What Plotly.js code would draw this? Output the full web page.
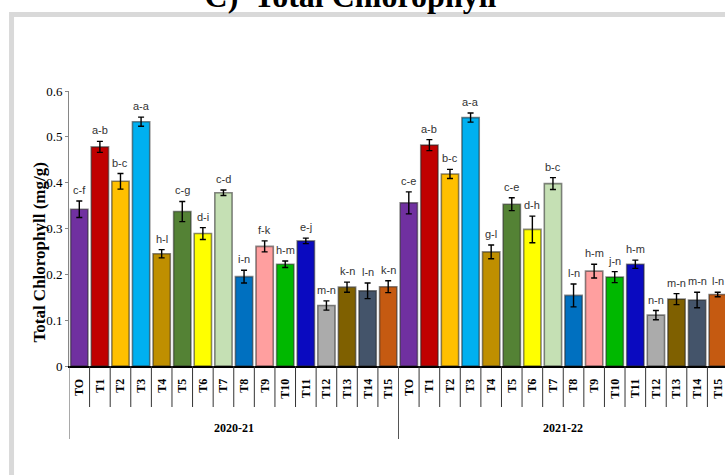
<!DOCTYPE html>
<html>
<head>
<meta charset="utf-8">
<script src="https://cdn.plot.ly/plotly-3.0.1.min.js"></script>
<style>
  html, body { margin: 0; padding: 0; background: #ffffff; overflow: hidden; }
  #chart { width: 740px; height: 475px; }
</style>
</head>
<body>
<div id="chart"></div>
<script>
// Treatments and seasons
const treatments = ['TO', 'T1', 'T2', 'T3', 'T4', 'T5', 'T6', 'T7',
                    'T8', 'T9', 'T10', 'T11', 'T12', 'T13', 'T14', 'T15'];
const seasons = ['2020-21', '2021-22'];

// Total chlorophyll (mg/g), mean and standard error
const chl2020 = [0.342, 0.478, 0.403, 0.533, 0.245, 0.337, 0.289, 0.378,
                 0.195, 0.261, 0.222, 0.273, 0.132, 0.172, 0.164, 0.173];
const err2020 = [0.018, 0.012, 0.017, 0.010, 0.009, 0.022, 0.013, 0.006,
                 0.014, 0.012, 0.007, 0.006, 0.010, 0.011, 0.017, 0.013];
const chl2021 = [0.356, 0.482, 0.419, 0.542, 0.249, 0.353, 0.298, 0.398,
                 0.154, 0.207, 0.194, 0.222, 0.111, 0.146, 0.144, 0.156];
const err2021 = [0.024, 0.012, 0.010, 0.010, 0.015, 0.014, 0.029, 0.013,
                 0.025, 0.015, 0.012, 0.009, 0.010, 0.012, 0.017, 0.005];

// Significance letters
const let2020 = ['c-f', 'a-b', 'b-c', 'a-a', 'h-l', 'c-g', 'd-i', 'c-d',
                 'i-n', 'f-k', 'h-m', 'e-j', 'm-n', 'k-n', 'l-n', 'k-n'];
const let2021 = ['c-e', 'a-b', 'b-c', 'a-a', 'g-l', 'c-e', 'd-h', 'b-c',
                 'l-n', 'h-m', 'j-n', 'h-m', 'n-n', 'm-n', 'm-n', 'l-n'];

// One colour per treatment, repeated in each season
const treatColors = ['#7030A0', '#C00000', '#FFC000', '#00B0F0', '#BF8F00', '#548235',
                     '#FFFF00', '#C5E0B4', '#0070C0', '#FF9F9F', '#00B800', '#0A0AC0',
                     '#ABABAB', '#7F6000', '#44546A', '#C55A11'];

// ---- layout geometry (pixels) ----
const W = 740, H = 475;
const plotL = 69.4, plotR = 727.6, plotT = 91, plotB = 366;
const pw = plotR - plotL, ph = plotB - plotT;
const px2x = p => (p - plotL) / pw;     // page px -> paper x
const py2y = p => (plotB - p) / ph;     // page px -> paper y

const nT = treatments.length;
const series = [
  { name: seasons[0], vals: chl2020, errs: err2020, lets: let2020 },
  { name: seasons[1], vals: chl2021, errs: err2021, lets: let2021 }
];

const traces = [];
const annotations = [];
const shapes = [];
const tickvals = [];
const ticktext = [];

series.forEach((s, g) => {
  const xs = treatments.map((_, i) => g * nT + i);
  xs.forEach((x, i) => { tickvals.push(x); ticktext.push(treatments[i]); });
  traces.push({
    type: 'bar',
    name: s.name,
    x: xs,
    y: s.vals,
    width: 0.84,
    marker: {
      color: treatColors,
      line: { color: 'rgba(40,40,40,0.55)', width: 1.6 }
    },
    error_y: {
      type: 'data', array: s.errs, visible: true,
      color: '#000000', thickness: 1.4, width: 3
    },
    hoverinfo: 'skip'
  });
  // letters above the error bars
  s.vals.forEach((v, i) => {
    annotations.push({
      x: xs[i], y: v + s.errs[i], xref: 'x', yref: 'y',
      text: s.lets[i], showarrow: false,
      yanchor: 'bottom', yshift: 3,
      font: { family: 'Liberation Sans Narrow, Arial Narrow, Liberation Sans, Arial', size: 11, color: '#333333' }
    });
  });
  // season label under its group
  annotations.push({
    x: g * nT + (nT - 1) / 2, y: py2y(428), xref: 'x', yref: 'paper',
    text: '<b>' + s.name + '</b>', showarrow: false,
    xanchor: 'center', yanchor: 'middle',
    font: { family: 'Liberation Serif, Times New Roman, serif', size: 12, color: '#000000' }
  });
});

// category separators below the axis
for (let k = 0; k <= nT * series.length; k++) {
  const isGroupEdge = (k % nT === 0);
  shapes.push({
    type: 'line', xref: 'x', yref: 'paper',
    x0: k - 0.5, x1: k - 0.5,
    y0: 0, y1: isGroupEdge ? py2y(439) : py2y(407),
    line: { color: isGroupEdge ? '#555555' : '#333333', width: 1 }
  });
}

// light grey panel frame
shapes.push({
  type: 'line', xref: 'paper', yref: 'paper',
  x0: px2x(10), x1: px2x(760), y0: py2y(14.5), y1: py2y(14.5),
  line: { color: '#D9D9D9', width: 5 }
});
shapes.push({
  type: 'line', xref: 'paper', yref: 'paper',
  x0: px2x(12), x1: px2x(12), y0: py2y(12), y1: py2y(500),
  line: { color: '#D9D9D9', width: 5 }
});

// y-axis title
annotations.push({
  x: px2x(39), y: py2y(253), xref: 'paper', yref: 'paper',
  text: '<b>Total Chlorophyll (mg/g)</b>', textangle: -90, showarrow: false,
  xanchor: 'center', yanchor: 'middle',
  font: { family: 'Liberation Serif, Times New Roman, serif', size: 17, color: '#000000' }
});

const layout = {
  width: W, height: H,
  margin: { l: plotL, r: W - plotR, t: plotT, b: H - plotB, pad: 0 },
  paper_bgcolor: '#ffffff',
  plot_bgcolor: '#ffffff',
  showlegend: false,
  bargap: 0.16,
  title: {
    text: '<b>C)  Total Chlorophyll</b>',
    x: 350.5 / W, xanchor: 'center', xref: 'container',
    y: 1 - 7 / H, yanchor: 'bottom', yref: 'container',
    font: { family: 'Liberation Serif, Times New Roman, serif', size: 32, color: '#000000' }
  },
  xaxis: {
    range: [-0.5, nT * series.length - 0.5],
    tickmode: 'array', tickvals: tickvals, ticktext: ticktext,
    tickangle: -90,
    ticks: '', ticklabelstandoff: 6,
    showgrid: false, zeroline: false,
    showline: true, linecolor: '#000000', linewidth: 2,
    tickfont: { family: 'Liberation Serif, Times New Roman, serif', size: 12, color: '#000000', weight: 'bold' },
    fixedrange: true
  },
  yaxis: {
    range: [0, 0.6], dtick: 0.1, tick0: 0,
    ticks: 'outside', ticklen: 3, tickcolor: '#868686', tickwidth: 1,
    showgrid: false, zeroline: false,
    showline: true, linecolor: '#868686', linewidth: 1,
    tickfont: { family: 'Liberation Serif, Times New Roman, serif', size: 13, color: '#000000' },
    fixedrange: true
  },
  shapes: shapes,
  annotations: annotations
};

Plotly.newPlot('chart', traces, layout, { displayModeBar: false, staticPlot: true });
</script>
</body>
</html>
